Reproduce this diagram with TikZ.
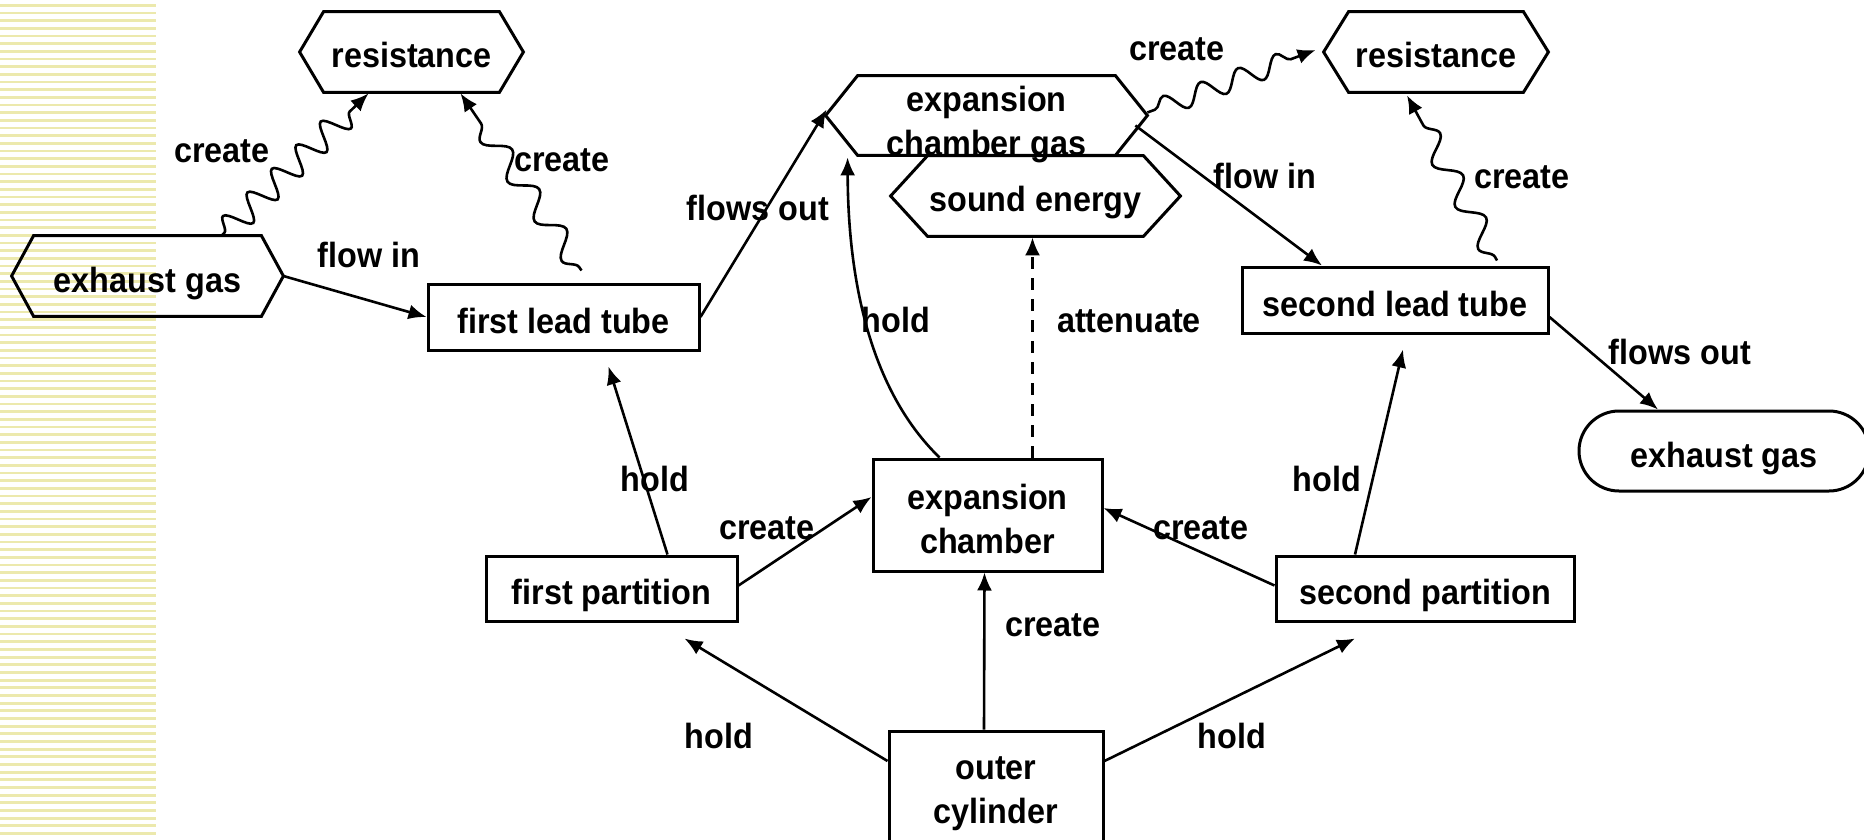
\documentclass[tikz,border=0pt]{standalone}
\usepackage{fontspec}
\setmainfont{Liberation Sans}[UprightFont=* Bold, FakeStretch=0.925]
\usetikzlibrary{arrows.meta,calc,decorations.pathmorphing}

\definecolor{stripecol}{HTML}{ECE9AD}

% outline of an elongated hexagon around a rectangular node, #2 = inset of the tips
\newcommand\hexoutline[2]{%
  \draw[frame] (#1.west) -- ($(#1.north west)+(#2,0)$) -- ($(#1.north east)+(-#2,0)$)
    -- (#1.east) -- ($(#1.south east)+(-#2,0)$) -- ($(#1.south west)+(#2,0)$) -- cycle;}

\begin{document}
\begin{tikzpicture}[x=0.5pt,y=-0.5pt,
  every node/.style={font=\fontsize{17.5}{22}\selectfont, inner sep=0pt, align=center},
  frame/.style={line width=1.5pt, line join=miter},
  box/.style={draw, frame},
  oneline/.style={text height=17pt, text depth=1pt},
  hexnode/.style={draw=none, oneline},
  stadium/.style={draw, frame, rounded corners=20pt, oneline},
  lbl/.style={text height=13pt, text depth=1.6pt},
  arr/.style={line width=1.3pt, -{Latex[length=9pt,width=7.5pt]}},
  dasharr/.style={arr, dash pattern=on 6pt off 4.5pt},
  wave/.style={arr, decorate, decoration={snake, amplitude=6.5pt, segment length=17pt, pre length=2pt, post length=7pt}},
  slowwave/.style={arr, decorate, decoration={snake, amplitude=5.5pt, segment length=24pt, pre length=2pt, post length=7pt}},
  midwave/.style={arr, decorate, decoration={snake, amplitude=5pt, segment length=20pt, pre length=4pt, post length=7pt}}
]
\useasboundingbox (0,0) rectangle (1864,840);
\clip (0,0) rectangle (1864,840);

% striped band on the left
\foreach \k in {0,...,109}
  \fill[stripecol] (0,{4+\k*7.667}) rectangle (156,{6.8+\k*7.667});

% hexagonal nodes
\node[hexnode, minimum width=111.5pt, minimum height=40pt] (res1) at (411.5,52) {resistance};
\node[hexnode, minimum width=135.5pt, minimum height=40pt] (exL) at (147.5,276) {exhaust gas};
\node[draw=none, minimum width=160.5pt, minimum height=39.5pt,
      label={[yshift=-4.5pt]center:expansion\\chamber gas}] (gas) at (986.5,115.5) {};
\node[hexnode, minimum width=144.5pt, minimum height=40pt] (snd) at (1035.5,196) {sound energy};
\node[hexnode, minimum width=112pt, minimum height=40pt] (res2) at (1436,52) {resistance};
\hexoutline{res1}{24}
\hexoutline{exL}{22}
\hexoutline{gas}{32}
\hexoutline{snd}{37}
\hexoutline{res2}{25}

% rectangular nodes
\node[box, oneline, minimum width=135.5pt, minimum height=33pt] (flt) at (563.5,317) {first lead tube};
\node[box, oneline, minimum width=153pt, minimum height=33pt] (slt) at (1395,300) {second lead tube};
\node[box, minimum width=114.5pt, minimum height=56pt,
      label={[yshift=-1.8pt]center:expansion\\chamber}] (ech) at (987.5,515) {};
\node[box, oneline, minimum width=125.5pt, minimum height=32.5pt] (fp) at (611.5,588.5) {first partition};
\node[box, oneline, minimum width=149pt, minimum height=32.5pt] (sp) at (1425,588.5) {second partition};
\node[box, minimum width=107pt, minimum height=60pt,
      label={[yshift=-1.2pt]center:outer\\cylinder}] (oc) at (996,791) {};
\node[stadium, minimum width=145pt, minimum height=40pt] (exR) at (1724,451) {exhaust gas};

% free ends of the arrows that stop short of their targets
\coordinate (fltIn) at ($(flt.south)+(45,15)$);
\coordinate (sltIn) at ($(slt.south)+(8,15)$);
\coordinate (fpIn) at ($(fp.south)+(73,16)$);
\coordinate (spIn) at ($(sp.south)+(-70,16)$);
\coordinate (res2In) at ($(res2.west)+(-8,-2)$);

% connectors
\draw[arr] (exL.east) -- (flt.west);
\draw[wave] ($(exL.north)+(74,0)$) -- ($(res1.south)+(-43,1)$);
\draw[slowwave] ($(flt.north)+(18,-12)$) -- ($(res1.south)+(49,1)$);
\draw[arr] (flt.east) -- ($(gas.west)+(1,-6)$);
\draw[arr] ($(ech.north)+(-48,0)$) .. controls (870,390) and (848,280) .. ($(gas.south west)+(22,2)$);
\draw[dasharr] ($(ech.north)+(45,0)$) -- ($(snd.south)+(-3,1)$);
\draw[midwave] ($(gas.east)+(0,-3)$) -- (res2In);
\draw[arr] ($(gas.east)+(-12,10)$) -- ($(slt.north)+(-73,0)$);
\draw[slowwave] ($(slt.north)+(102,-5)$) -- ($(res2.south)+(-29,3)$);
\draw[arr] ($(slt.east)+(0,17)$) -- ($(exR.north)+(-66,0)$);
\draw[arr] ($(fp.north)+(56,0)$) -- (fltIn);
\draw[arr] ($(fp.east)+(0,-3)$) -- ($(ech.west)+(0,-18)$);
\draw[arr] ($(sp.west)+(0,-3)$) -- ($(ech.east)+(0,-7)$);
\draw[arr] ($(sp.north)+(-70,0)$) -- (sltIn);
\draw[arr] ($(oc.north)+(-12,0)$) -- ($(ech.south)+(-3,0)$);
\draw[arr] ($(oc.west)+(0,-30)$) -- (fpIn);
\draw[arr] ($(oc.east)+(0,-30)$) -- (spIn);

% connector labels
\node[lbl] (lFlowIn1) at (369,256) {flow in};
\node[lbl] (lCreate1) at (222,151) {create};
\node[lbl] (lCreate2) at (562,160) {create};
\node[lbl] (lFlowsOut1) at (758,209) {flows out};
\node[lbl] (lHold1) at (896,321) {hold};
\node[lbl] (lAtten) at (1129,321) {attenuate};
\node[lbl] (lCreate3) at (1177,49) {create};
\node[lbl] (lFlowIn2) at (1265,177) {flow in};
\node[lbl] (lCreate4) at (1522,177) {create};
\node[lbl] (lFlowsOut2) at (1680,353) {flows out};
\node[lbl] (lHold2) at (655,480) {hold};
\node[lbl] (lCreate5) at (767,528) {create};
\node[lbl] (lCreate6) at (1201,528) {create};
\node[lbl] (lHold3) at (1327,480) {hold};
\node[lbl] (lCreate7) at (1053,625) {create};
\node[lbl] (lHold4) at (719,737) {hold};
\node[lbl] (lHold5) at (1232,737) {hold};
\end{tikzpicture}
\end{document}
